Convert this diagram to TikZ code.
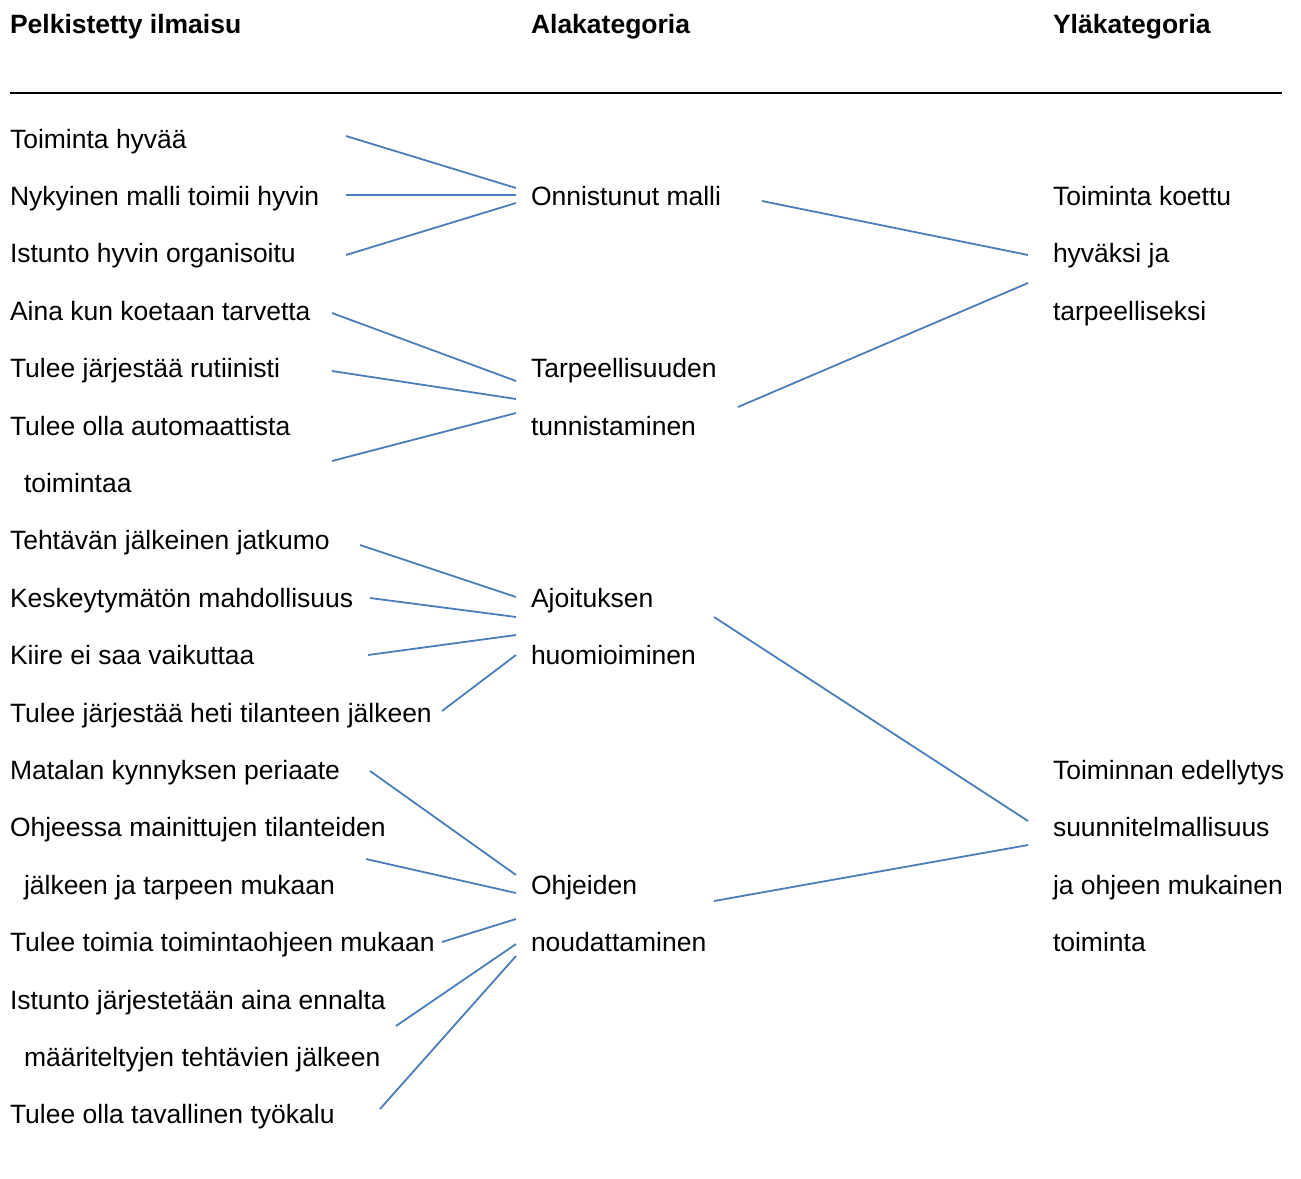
\documentclass[tikz,border=0pt]{standalone}
\usepackage{fontspec}
\setmainfont{Liberation Sans}
\begin{document}
\begin{tikzpicture}[x=1pt,y=-1pt,
  every node/.style={inner sep=0pt,outer sep=0pt,anchor=base west,
    font=\fontsize{26.5}{30}\selectfont},
  head/.style={font=\fontsize{26.5}{30}\selectfont\bfseries},
  link/.style={draw={rgb,255:red,74;green,126;blue,187},line width=1.8pt}]
\useasboundingbox (0,0) rectangle (1301,1178);

% column headings
\node[head] (h1) at (10,33) {Pelkistetty ilmaisu};
\node[head] (h2) at (531,33) {Alakategoria};
\node[head] (h3) at (1053,33) {Yläkategoria};
\draw[line width=1.6pt] (10,93) -- (1282,93);

% reduced expressions
\def\rowy#1{148+(#1-1)*57.4}
\node (p1)  at (10,{\rowy{1}})  {Toiminta hyvää};
\node (p2)  at (10,{\rowy{2}})  {Nykyinen malli toimii hyvin};
\node (p3)  at (10,{\rowy{3}})  {Istunto hyvin organisoitu};
\node (p4)  at (10,{\rowy{4}})  {Aina kun koetaan tarvetta};
\node (p5)  at (10,{\rowy{5}})  {Tulee järjestää rutiinisti};
\node (p6)  at (10,{\rowy{6}})  {Tulee olla automaattista};
\node (p7)  at (24,{\rowy{7}})  {toimintaa};
\node (p8)  at (10,{\rowy{8}})  {Tehtävän jälkeinen jatkumo};
\node (p9)  at (10,{\rowy{9}})  {Keskeytymätön mahdollisuus};
\node (p10) at (10,{\rowy{10}}) {Kiire ei saa vaikuttaa};
\node (p11) at (10,{\rowy{11}}) {Tulee järjestää heti tilanteen jälkeen};
\node (p12) at (10,{\rowy{12}}) {Matalan kynnyksen periaate};
\node (p13) at (10,{\rowy{13}}) {Ohjeessa mainittujen tilanteiden};
\node (p14) at (24,{\rowy{14}}) {jälkeen ja tarpeen mukaan};
\node (p15) at (10,{\rowy{15}}) {Tulee toimia toimintaohjeen mukaan};
\node (p16) at (10,{\rowy{16}}) {Istunto järjestetään aina ennalta};
\node (p17) at (24,{\rowy{17}}) {määriteltyjen tehtävien jälkeen};
\node (p18) at (10,{\rowy{18}}) {Tulee olla tavallinen työkalu};

% subcategories
\node (a1)  at (531,{\rowy{2}})  {Onnistunut malli};
\node (a2a) at (531,{\rowy{5}})  {Tarpeellisuuden};
\node (a2b) at (531,{\rowy{6}})  {tunnistaminen};
\node (a3a) at (531,{\rowy{9}})  {Ajoituksen};
\node (a3b) at (531,{\rowy{10}}) {huomioiminen};
\node (a4a) at (531,{\rowy{14}}) {Ohjeiden};
\node (a4b) at (531,{\rowy{15}}) {noudattaminen};

% main categories
\node (y1a) at (1053,{\rowy{2}})  {Toiminta koettu};
\node (y1b) at (1053,{\rowy{3}})  {hyväksi ja};
\node (y1c) at (1053,{\rowy{4}})  {tarpeelliseksi};
\node (y2a) at (1053,{\rowy{12}}) {Toiminnan edellytys};
\node (y2b) at (1053,{\rowy{13}}) {suunnitelmallisuus};
\node (y2c) at (1053,{\rowy{14}}) {ja ohjeen mukainen};
\node (y2d) at (1053,{\rowy{15}}) {toiminta};

% connector end points
\coordinate (e1) at (346,136);  \coordinate (s1a) at (516,188);
\coordinate (e2) at (346,195);  \coordinate (s1b) at (516,195);
\coordinate (e3) at (346,255);  \coordinate (s1c) at (516,203);
\coordinate (e4) at (332,313);  \coordinate (s2a) at (516,381);
\coordinate (e5) at (332,371);  \coordinate (s2b) at (516,399);
\coordinate (e6) at (332,461);  \coordinate (s2c) at (516,413);
\coordinate (e8) at (360,545);  \coordinate (s3a) at (516,597);
\coordinate (e9) at (370,598);  \coordinate (s3b) at (516,617);
\coordinate (e10) at (368,655); \coordinate (s3c) at (516,635);
\coordinate (e11) at (442,711); \coordinate (s3d) at (516,655);
\coordinate (e12) at (370,771); \coordinate (s4a) at (516,875);
\coordinate (e13) at (366,859); \coordinate (s4b) at (516,893);
\coordinate (e15) at (442,942); \coordinate (s4c) at (516,919);
\coordinate (e16) at (396,1026);\coordinate (s4d) at (516,944);
\coordinate (e18) at (380,1109);\coordinate (s4e) at (516,956);
\coordinate (o1) at (762,201);  \coordinate (t1a) at (1028,255);
\coordinate (o2) at (738,407);  \coordinate (t1b) at (1028,283);
\coordinate (o3) at (714,617);  \coordinate (t2a) at (1028,821);
\coordinate (o4) at (714,901);  \coordinate (t2b) at (1028,845);

% links expression -> subcategory
\draw[link] (e1) -- (s1a);
\draw[link] (e2) -- (s1b);
\draw[link] (e3) -- (s1c);
\draw[link] (e4) -- (s2a);
\draw[link] (e5) -- (s2b);
\draw[link] (e6) -- (s2c);
\draw[link] (e8) -- (s3a);
\draw[link] (e9) -- (s3b);
\draw[link] (e10) -- (s3c);
\draw[link] (e11) -- (s3d);
\draw[link] (e12) -- (s4a);
\draw[link] (e13) -- (s4b);
\draw[link] (e15) -- (s4c);
\draw[link] (e16) -- (s4d);
\draw[link] (e18) -- (s4e);

% links subcategory -> main category
\draw[link] (o1) -- (t1a);
\draw[link] (o2) -- (t1b);
\draw[link] (o3) -- (t2a);
\draw[link] (o4) -- (t2b);
\end{tikzpicture}
\end{document}
